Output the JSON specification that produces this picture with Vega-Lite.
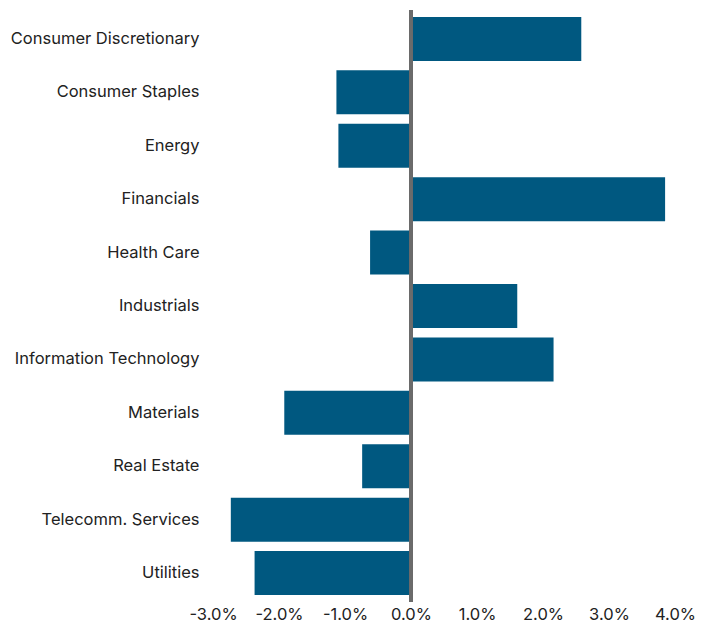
{
  "$schema": "https://vega.github.io/schema/vega-lite/v6.json",
  "autosize": "none",
  "padding": {"left": 213, "top": 10, "right": 38, "bottom": 22},
  "width": 462,
  "height": 592,
  "background": "white",
  "config": {"view": {"stroke": null}, "font": "Inter"},
  "data": {"values": [
    {"sector": "Consumer Discretionary", "value": 2.58},
    {"sector": "Consumer Staples", "value": -1.13},
    {"sector": "Energy", "value": -1.10},
    {"sector": "Financials", "value": 3.85},
    {"sector": "Health Care", "value": -0.62},
    {"sector": "Industrials", "value": 1.61},
    {"sector": "Information Technology", "value": 2.16},
    {"sector": "Materials", "value": -1.92},
    {"sector": "Real Estate", "value": -0.74},
    {"sector": "Telecomm. Services", "value": -2.73},
    {"sector": "Utilities", "value": -2.37}
  ]},
  "layer": [
    {
      "mark": {"type": "bar", "color": "#005880"},
      "encoding": {
        "y": {"field": "sector", "type": "nominal", "sort": null, "title": null,
          "scale": {"paddingInner": 0.176, "paddingOuter": 0.13},
          "axis": {"domain": false, "ticks": false, "labelPadding": 14, "labelFontSize": 16.5, "labelColor": "#222222", "labelFont": "Inter", "labelLimit": 260}},
        "x": {"field": "value", "type": "quantitative", "title": null,
          "scale": {"domain": [-3, 4], "nice": false},
          "axis": {"values": [-3, -2, -1, 0, 1, 2, 3, 4], "domain": false, "ticks": false, "grid": false, "labelPadding": 4, "labelFontSize": 16.5, "labelColor": "#222222", "labelFont": "Inter", "labelExpr": "replace(format(datum.value, '.1f'), '\u2212', '-') + '%'", "labelFlush": false}}
      }
    },
    {
      "mark": {"type": "rule", "color": "#6b6b6b", "strokeWidth": 3},
      "encoding": {"x": {"datum": 0}}
    }
  ]
}
